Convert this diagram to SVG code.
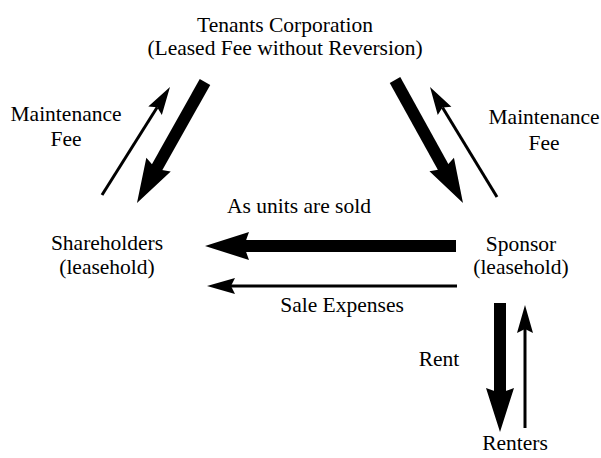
<svg xmlns="http://www.w3.org/2000/svg" width="601" height="458" viewBox="0 0 601 458">
<style>
text{font-family:"Liberation Serif","DejaVu Serif","Times New Roman",serif;font-size:21.5px;fill:#000;text-anchor:middle}
.thick{stroke:#000;stroke-width:12;fill:none;marker-end:url(#hThick)}
.thin{stroke:#000;stroke-width:3;fill:none;marker-end:url(#hThin)}
</style>
<defs>
<marker id="hThick" markerUnits="userSpaceOnUse" viewBox="-10 -16 52 32" refX="0" refY="0" markerWidth="52" markerHeight="32" orient="auto" overflow="visible">
<path d="M38,0 L-6,-14 L-1,0 L-6,14 Z" fill="#000"/>
</marker>
<marker id="hThin" markerUnits="userSpaceOnUse" viewBox="-6 -10 32 20" refX="0" refY="0" markerWidth="32" markerHeight="20" orient="auto" overflow="visible">
<path d="M24,0 L-4,-8 L0,0 L-4,8 Z" fill="#000"/>
</marker>
</defs>
<rect width="601" height="458" fill="#fff"/>
<g id="tenants">
<text x="285" y="32">Tenants Corporation</text>
<text x="285" y="55">(Leased Fee without Reversion)</text>
</g>
<g id="shareholders">
<text x="107" y="250">Shareholders</text>
<text x="107" y="274">(leasehold)</text>
</g>
<g id="sponsor">
<text x="521" y="251">Sponsor</text>
<text x="521" y="274">(leasehold)</text>
</g>
<g id="renters">
<text x="515" y="450">Renters</text>
</g>
<g id="connectors">
<line class="thin" x1="102" y1="195" x2="157.2" y2="107.3"/>
<line class="thick" x1="205" y1="82" x2="155.6" y2="169.9"/>
<line class="thick" x1="395" y1="80" x2="444.6" y2="169.7"/>
<line class="thin" x1="497" y1="197" x2="442.5" y2="107.5"/>
<line class="thick" x1="456" y1="246" x2="243" y2="246"/>
<line class="thin" x1="457" y1="286" x2="231" y2="286"/>
<line class="thick" x1="500" y1="303" x2="500" y2="394"/>
<line class="thin" x1="525" y1="428" x2="525" y2="329"/>
</g>
<g id="labels">
<text x="66" y="121">Maintenance</text>
<text x="66" y="146">Fee</text>
<text x="544" y="124">Maintenance</text>
<text x="544" y="150">Fee</text>
<text x="299" y="213">As units are sold</text>
<text x="342" y="312">Sale Expenses</text>
<text x="439" y="366">Rent</text>
</g>
</svg>
